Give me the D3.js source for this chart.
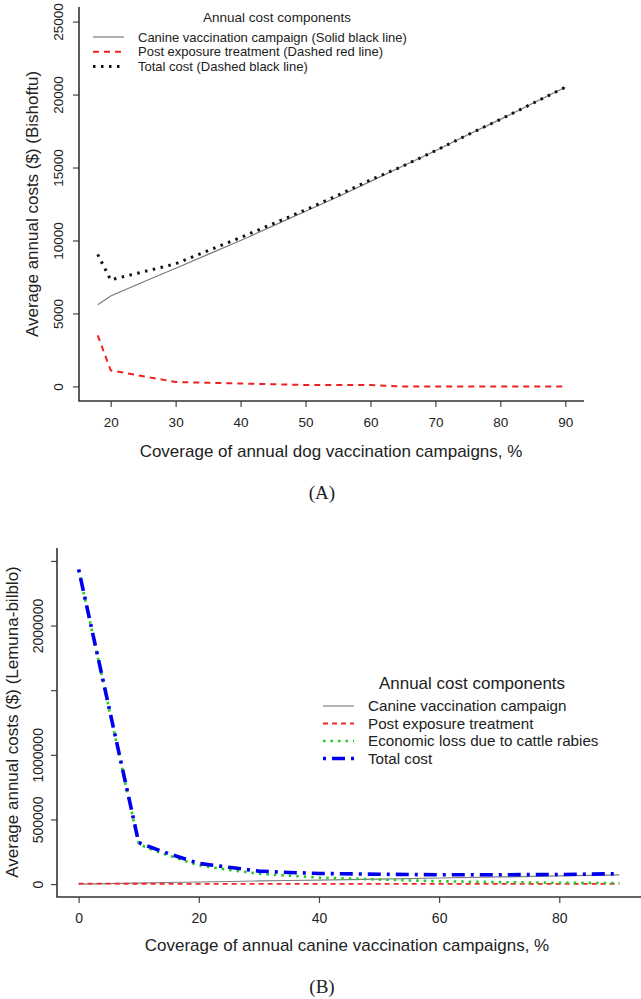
<!DOCTYPE html>
<html>
<head>
<meta charset="utf-8">
<script src="https://cdn.jsdelivr.net/npm/d3@7/dist/d3.min.js"></script>
<style>
    body { margin: 0; background: #fff; }
    svg text { font-family: "Liberation Sans", Arial, sans-serif; fill: #222; }
</style>
</head>
<body>
<svg id="chart" width="641" height="999"></svg>
<script>
// panel A - Bishoftu
let coverageA = [18, 20, 25, 30, 35, 40, 45, 50, 55, 60, 65, 70, 75, 80, 85, 90];
let canineA = [5600, 6200, 7150, 8100, 9050, 10000, 11000, 12000, 13000, 14050, 15100, 16150, 17250, 18300, 19400, 20500];
let petA = [3500, 1100, 700, 300, 250, 200, 150, 100, 100, 100, 0, 0, 0, 0, 0, 0];
let totalA = [9050, 7300, 7850, 8400, 9300, 10200, 11150, 12100, 13100, 14150, 15100, 16150, 17250, 18300, 19400, 20500];
let yTicksA = [0, 5000, 10000, 15000, 20000, 25000];
let xTicksA = [20, 30, 40, 50, 60, 70, 80, 90];
let legendA = ['Canine vaccination campaign (Solid black line)', 'Post exposure treatment (Dashed red line)', 'Total cost (Dashed black line)'];

// panel B - Lemuna-bilblo
let coverageB = [0, 10, 12, 15, 20, 25, 30, 35, 40, 50, 60, 70, 80, 90];
let canineB = [0, 8000, 9500, 12000, 16000, 20000, 24000, 27500, 31000, 39000, 47000, 55000, 63000, 71000];
let petB = [3000, 2500, 2400, 2300, 2200, 2000, 2000, 1800, 1700, 1500, 1400, 1300, 1200, 1100];
let cattleB = [2430000, 310000, 270000, 220000, 145000, 110000, 80000, 65000, 50000, 35000, 22000, 15000, 10000, 8000];
let totalB = [2435000, 320000, 285000, 235000, 160000, 130000, 100000, 90000, 82000, 76000, 72000, 72000, 74000, 80000];
let yTicksB = [0, 500000, 1000000, 1500000, 2000000, 2500000];
let yLabelsB = [0, 500000, 1000000, 2000000];
let xTicksB = [0, 20, 40, 60, 80];
let legendB = ['Canine vaccination campaign', 'Post exposure treatment', 'Economic loss due to cattle rabies', 'Total cost'];

let svg = d3.select("#chart");
svg.append("rect").attr("width", 641).attr("height", 999).attr("fill", "#fff");

// R style range: data range padded by 4% on each side
function pad(lo, hi) {
    let d = (hi - lo) * 0.04;
    return [lo - d, hi + d];
}

// axes with an L shaped box
function drawAxes(g, x, y, p) {
    let xAxis = d3.axisBottom(x).tickValues(p.xTicks).tickSize(6).tickSizeOuter(0).tickFormat(d3.format("d"));
    let gx = g.append("g")
        .attr("transform", "translate(0," + y.range()[0] + ")")
        .call(xAxis);
    gx.select(".domain").remove();
    gx.selectAll("line").attr("stroke", "#444").attr("stroke-width", 1.2);
    gx.selectAll("text")
        .attr("y", p.xLabelOff)
        .attr("dy", "0.35em")
        .style("font-size", p.tickFont + "px")
        .style("font-family", "Liberation Sans, Arial, sans-serif")
        .attr("fill", "#222");

    let yAxis = d3.axisLeft(y).tickValues(p.yTicks).tickSize(6).tickSizeOuter(0)
        .tickFormat(function (d) {
            return p.yLabels.indexOf(d) >= 0 ? d3.format("d")(d) : "";
        });
    let gy = g.append("g")
        .attr("transform", "translate(" + x.range()[0] + ",0)")
        .call(yAxis);
    gy.select(".domain").remove();
    gy.selectAll("line").attr("stroke", "#444").attr("stroke-width", 1.2);
    gy.selectAll("text")
        .attr("transform", "rotate(-90)")
        .attr("x", 0)
        .attr("y", p.yLabelOff)
        .attr("dy", "0.35em")
        .attr("text-anchor", "middle")
        .style("font-size", p.tickFont + "px")
        .style("font-family", "Liberation Sans, Arial, sans-serif")
        .attr("fill", "#222");

    // box lines (left + bottom)
    g.append("path")
        .attr("d", "M" + x.range()[0] + "," + y.range()[1] + "V" + y.range()[0] + "H" + x.range()[1])
        .attr("fill", "none")
        .attr("stroke", "#333")
        .attr("stroke-width", 1.6);
}

function drawSeries(g, x, y, xs, vals, st) {
    let line = d3.line()
        .x(function (d) { return x(d[0]); })
        .y(function (d) { return y(d[1]); });
    g.append("path")
        .datum(d3.zip(xs, vals))
        .attr("d", line)
        .attr("fill", "none")
        .attr("stroke", st.color)
        .attr("stroke-width", st.width)
        .attr("stroke-dasharray", st.dash)
        .attr("stroke-linecap", st.cap || "butt");
}

function drawLegend(g, items, styles, lp) {
    g.append("text")
        .attr("x", lp.titleX).attr("y", lp.titleY).attr("dy", "0.35em")
        .attr("text-anchor", "middle")
        .style("font-size", lp.titleFont + "px")
        .text("Annual cost components");
    items.forEach(function (name, i) {
        let yy = lp.rowY + i * lp.rowH;
        let st = styles[i];
        g.append("line")
            .attr("x1", lp.lineX1).attr("x2", lp.lineX2)
            .attr("y1", yy).attr("y2", yy)
            .attr("stroke", st.color)
            .attr("stroke-width", st.width)
            .attr("stroke-dasharray", st.dash)
            .attr("stroke-linecap", st.cap || "butt");
        g.append("text")
            .attr("x", lp.textX).attr("y", yy).attr("dy", "0.35em")
            .style("font-size", lp.font + "px")
            .text(name);
    });
}

// ---------- panel A ----------
let gA = svg.append("g");
let xA = d3.scaleLinear().domain(pad(d3.min(coverageA), d3.max(coverageA))).range([79, 584]);
let yA = d3.scaleLinear().domain(pad(0, 25000)).range([401, 7]);

drawAxes(gA, xA, yA, {xTicks: xTicksA, yTicks: yTicksA, yLabels: yTicksA, tickFont: 13.5, xLabelOff: 21, yLabelOff: -21});

let stylesA = [
    {color: "#7a7a7a", width: 1.2, dash: null},
    {color: "#ee2020", width: 2, dash: "6,5"},
    {color: "#111", width: 3, dash: "2.5,5.5"}
];
drawSeries(gA, xA, yA, coverageA, canineA, stylesA[0]);
drawSeries(gA, xA, yA, coverageA, petA, stylesA[1]);
drawSeries(gA, xA, yA, coverageA, totalA, stylesA[2]);

drawLegend(gA, legendA, stylesA, {titleX: 277, titleY: 17, titleFont: 13.5, rowY: 37, rowH: 14.8,
    lineX1: 93, lineX2: 124, textX: 138, font: 13});

gA.append("text")
    .attr("transform", "translate(32,204) rotate(-90)")
    .attr("text-anchor", "middle").attr("dy", "0.35em")
    .style("font-size", "17px")
    .text("Average annual costs ($) (Bishoftu)");
gA.append("text")
    .attr("x", 331).attr("y", 451).attr("dy", "0.35em")
    .attr("text-anchor", "middle")
    .style("font-size", "17px")
    .text("Coverage of annual dog vaccination campaigns, %");
gA.append("text")
    .attr("x", 322).attr("y", 492).attr("dy", "0.35em")
    .attr("text-anchor", "middle")
    .style("font-size", "19px")
    .style("font-family", "Liberation Serif, Times New Roman, serif")
    .text("(A)");

// ---------- panel B ----------
let gB = svg.append("g");
let xB = d3.scaleLinear().domain(pad(d3.min(coverageB), d3.max(coverageB))).range([57, 641]);
let yB = d3.scaleLinear().domain(pad(0, 2500000)).range([897, 548]);

drawAxes(gB, xB, yB, {xTicks: xTicksB, yTicks: yTicksB, yLabels: yLabelsB, tickFont: 14, xLabelOff: 21, yLabelOff: -19});

let stylesB = [
    {color: "#808080", width: 1.2, dash: null},
    {color: "#ee2828", width: 1.8, dash: "5,4"},
    {color: "#22cc22", width: 2.6, dash: "2.5,5"},
    {color: "#0000ee", width: 3.6, dash: "3,6,13,6"}
];
drawSeries(gB, xB, yB, coverageB, canineB, stylesB[0]);
drawSeries(gB, xB, yB, coverageB, petB, stylesB[1]);
drawSeries(gB, xB, yB, coverageB, cattleB, stylesB[2]);
drawSeries(gB, xB, yB, coverageB, totalB, stylesB[3]);

drawLegend(gB, legendB, stylesB, {titleX: 472, titleY: 683, titleFont: 17, rowY: 706, rowH: 17.5,
    lineX1: 323, lineX2: 354, textX: 368, font: 15.2});

gB.append("text")
    .attr("transform", "translate(12,722) rotate(-90)")
    .attr("text-anchor", "middle").attr("dy", "0.35em")
    .style("font-size", "17px")
    .text("Average annual costs ($) (Lemuna-bilblo)");
gB.append("text")
    .attr("x", 347).attr("y", 945).attr("dy", "0.35em")
    .attr("text-anchor", "middle")
    .style("font-size", "17px")
    .text("Coverage of annual canine vaccination campaigns, %");
gB.append("text")
    .attr("x", 322).attr("y", 986).attr("dy", "0.35em")
    .attr("text-anchor", "middle")
    .style("font-size", "19px")
    .style("font-family", "Liberation Serif, Times New Roman, serif")
    .text("(B)");
</script>
</body>
</html>
